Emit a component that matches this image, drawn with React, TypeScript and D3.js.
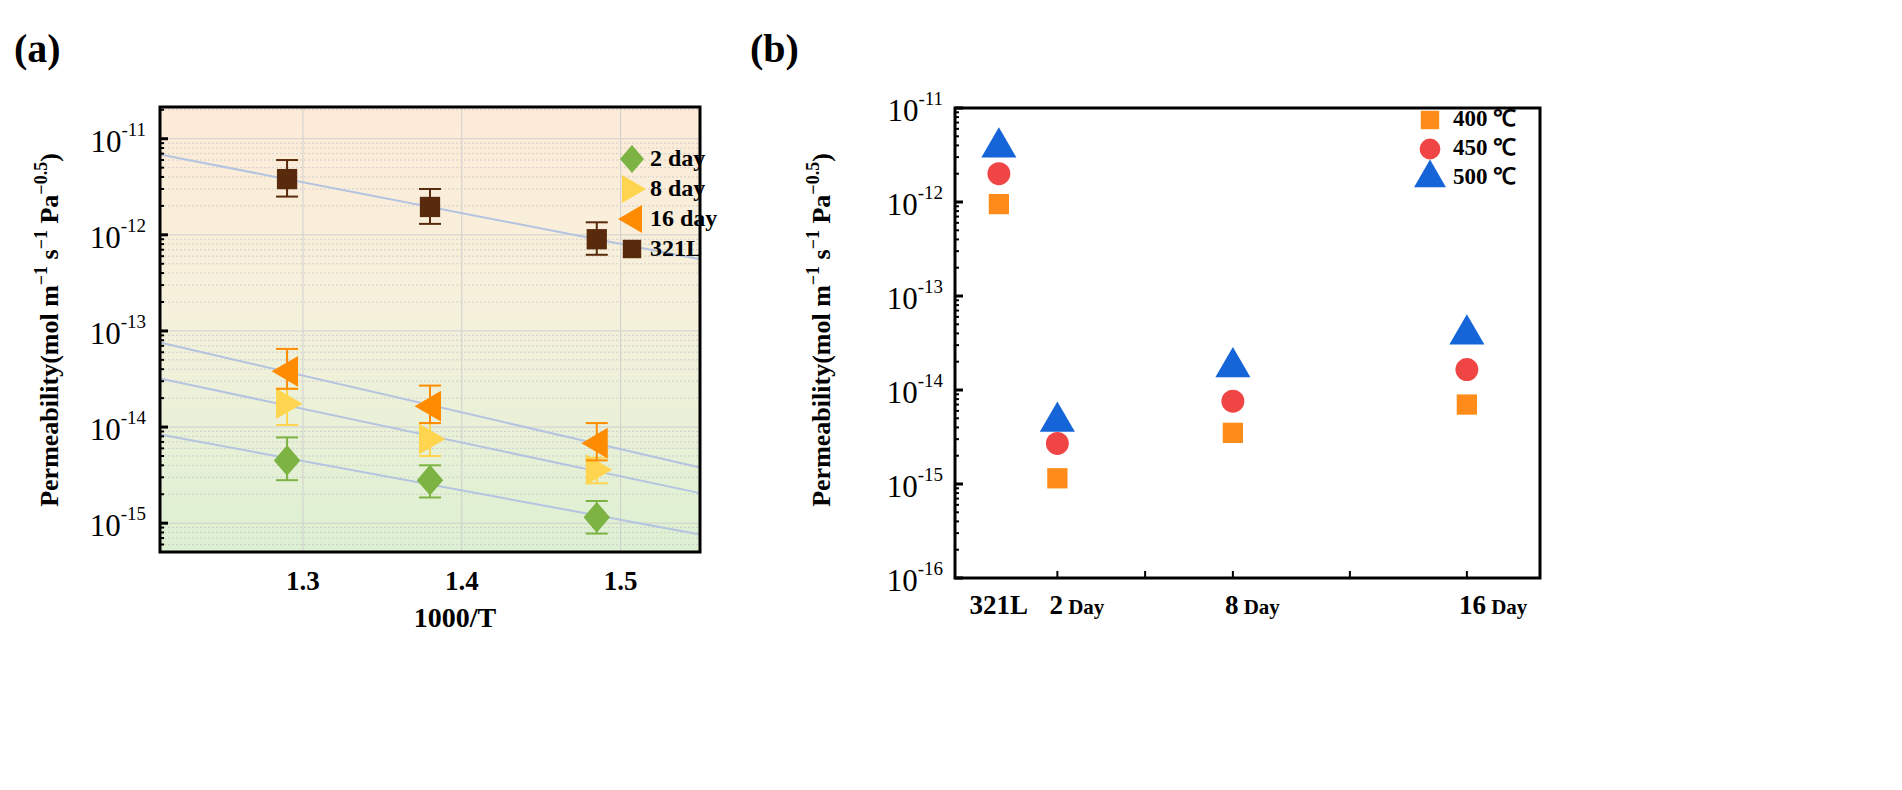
import React from 'react';
import * as d3 from 'd3';

// panel (a): 1000/T vs permeability
const tempX = [1.29, 1.38, 1.485];
const seriesA = [
  { name: '2 day', color: '#7cb342', shape: 'diamond', val: [4.5e-15, 2.8e-15, 1.15e-15], hi: [7.8e-15, 4e-15, 1.7e-15], lo: [2.8e-15, 1.85e-15, 7.8e-16] },
  { name: '8 day', color: '#ffd54f', shape: 'right', val: [1.75e-14, 7.5e-15, 3.6e-15], hi: [2.5e-14, 1.1e-14, 4.8e-15], lo: [1.05e-14, 5e-15, 2.6e-15] },
  { name: '16 day', color: '#ff8c00', shape: 'left', val: [3.8e-14, 1.65e-14, 6.8e-15], hi: [6.5e-14, 2.7e-14, 1.1e-14], lo: [2.5e-14, 1.1e-14, 4.5e-15] },
  { name: '321L', color: '#5a2a0c', shape: 'square', val: [3.8e-12, 1.95e-12, 9e-13], hi: [6e-12, 3e-12, 1.35e-12], lo: [2.5e-12, 1.3e-12, 6.2e-13] },
];
const xTicksA = [1.3, 1.4, 1.5];
const decadesA = [-11, -12, -13, -14, -15];

// panel (b): days vs permeability
const dayCats = ['321L', '2', '8', '16'];
const dayPos = [0, 2, 8, 16];
const seriesB = [
  { name: '400 ℃', color: '#ff8c1a', shape: 'square', val: [9.5e-13, 1.15e-15, 3.5e-15, 7e-15] },
  { name: '450 ℃', color: '#f04545', shape: 'circle', val: [2e-12, 2.7e-15, 7.6e-15, 1.65e-14] },
  { name: '500 ℃', color: '#1565d8', shape: 'triangle', val: [3.8e-12, 4.6e-15, 1.75e-14, 3.9e-14] },
];
const decadesB = [-11, -12, -13, -14, -15, -16];

const font = '"Liberation Serif", "Times New Roman", serif';

function marker(shape: string, x: number, y: number, s: number, color: string, key?: any) {
  const sym: Record<string, d3.SymbolType> = { square: d3.symbolSquare, circle: d3.symbolCircle, diamond: d3.symbolDiamond, triangle: d3.symbolTriangle };
  if (shape === 'right' || shape === 'left') {
    const d = shape === 'right' ? 1 : -1;
    const p = `M${x - d * s * 0.5},${y - s * 0.7}L${x + d * s * 0.7},${y}L${x - d * s * 0.5},${y + s * 0.7}Z`;
    return <path key={key} d={p} fill={color} />;
  }
  if (shape === 'diamond') {
    const p = `M${x},${y - s * 0.7}L${x + s * 0.6},${y}L${x},${y + s * 0.7}L${x - s * 0.6},${y}Z`;
    return <path key={key} d={p} fill={color} />;
  }
  const area = shape === 'triangle' ? s * s * 1.1 : shape === 'circle' ? s * s * 0.85 : s * s * 0.85;
  return <path key={key} d={d3.symbol(sym[shape], area)()!} transform={`translate(${x},${y})`} fill={color} />;
}

function DecadeLabel({ x, y, e }: { x: number; y: number; e: number }) {
  return (
    <text x={x} y={y} textAnchor="end" fontFamily={font} fontSize={31} dominantBaseline="middle">
      10<tspan dy={-13} fontSize={19}>{e}</tspan>
    </text>
  );
}

function minorTicks(decs: number[]) {
  const out: number[] = [];
  decs.forEach((e) => { for (let k = 2; k <= 9; k++) out.push(k * Math.pow(10, e)); });
  return out;
}

function YTitle({ x }: { x: number }) {
  return (
    <text transform={`translate(${x},330) rotate(-90)`} textAnchor="middle" fontFamily={font} fontWeight="bold" fontSize={26}>
      Permeability(mol m<tspan dy={-11} fontSize={18}>−1</tspan><tspan dy={11}> s</tspan><tspan dy={-11} fontSize={18}>−1</tspan><tspan dy={11}> Pa</tspan><tspan dy={-11} fontSize={18}>−0.5</tspan><tspan dy={11}>)</tspan>
    </text>
  );
}

function PanelA() {
  const L = 160, R = 700, T = 107, B = 552;
  const x = d3.scaleLinear().domain([1.21, 1.55]).range([L, R]);
  const y = d3.scaleLog().domain([Math.pow(10, -15.3), Math.pow(10, -10.67)]).range([B, T]);
  const minors = minorTicks([-11, -12, -13, -14, -15, -16]).filter((v) => y(v) > T && y(v) < B);
  return (
    <g>
      <defs>
        <linearGradient id="bgA" x1="0" y1="0" x2="0" y2="1">
          <stop offset="0" stopColor="#fdebd8" />
          <stop offset="0.45" stopColor="#f6f1dc" />
          <stop offset="1" stopColor="#dcf0d2" />
        </linearGradient>
      </defs>
      <rect x={L} y={T} width={R - L} height={B - T} fill="url(#bgA)" />
      {minors.map((v, i) => (
        <line key={i} x1={L} x2={R} y1={y(v)} y2={y(v)} stroke="#c8c8c8" strokeDasharray="2,2" strokeWidth={0.8} />
      ))}
      {decadesA.map((e) => (
        <line key={e} x1={L} x2={R} y1={y(Math.pow(10, e))} y2={y(Math.pow(10, e))} stroke="#d0d0d0" />
      ))}
      {xTicksA.map((t) => (
        <line key={t} x1={x(t)} x2={x(t)} y1={T} y2={B} stroke="#cfcfcf" />
      ))}
      {seriesA.map((s) => {
        const lx = tempX;
        const ly = s.val.map((v) => Math.log10(v));
        const mx = d3.mean(lx)!, my = d3.mean(ly)!;
        const slope = d3.sum(lx, (d, i) => (d - mx) * (ly[i] - my)) / d3.sum(lx, (d) => (d - mx) ** 2);
        const f = (t: number) => Math.pow(10, my + slope * (t - mx));
        const [a, b] = x.domain();
        return <line key={s.name} x1={x(a)} x2={x(b)} y1={y(f(a))} y2={y(f(b))} stroke="#b4c4e0" strokeWidth={2} />;
      })}
      {seriesA.map((s) => (
        <g key={s.name}>
          {tempX.map((t, i) => (
            <g key={i} stroke={s.color} strokeWidth={2}>
              <line x1={x(t)} x2={x(t)} y1={y(s.hi[i])} y2={y(s.lo[i])} />
              <line x1={x(t) - 11} x2={x(t) + 11} y1={y(s.hi[i])} y2={y(s.hi[i])} />
              <line x1={x(t) - 11} x2={x(t) + 11} y1={y(s.lo[i])} y2={y(s.lo[i])} />
            </g>
          ))}
          {tempX.map((t, i) => marker(s.shape, x(t), y(s.val[i]), 22, s.color, i))}
        </g>
      ))}
      {seriesA.map((s, i) => (
        <g key={s.name}>
          {marker(s.shape, 632, 159 + i * 30, 20, s.color)}
          <text x={650} y={160 + i * 30} dominantBaseline="middle" fontFamily={font} fontWeight="bold" fontSize={24}>{s.name}</text>
        </g>
      ))}
      <rect x={L} y={T} width={R - L} height={B - T} fill="none" stroke="#000" strokeWidth={3} />
      {minors.map((v, i) => (
        <line key={i} x1={L} x2={L + 4} y1={y(v)} y2={y(v)} stroke="#000" strokeWidth={2} />
      ))}
      {decadesA.map((e) => (
        <g key={e}>
          <line x1={L} x2={L + 8} y1={y(Math.pow(10, e))} y2={y(Math.pow(10, e))} stroke="#000" strokeWidth={3} />
          <DecadeLabel x={L - 14} y={y(Math.pow(10, e)) + 6} e={e} />
        </g>
      ))}
      {xTicksA.map((t) => (
        <text key={t} x={x(t)} y={B + 38} textAnchor="middle" fontFamily={font} fontWeight="bold" fontSize={27}>{t.toFixed(1)}</text>
      ))}
      <text x={455} y={627} textAnchor="middle" fontFamily={font} fontWeight="bold" fontSize={28}>1000/T</text>
      <YTitle x={58} />
      <text x={14} y={62} fontFamily={font} fontWeight="bold" fontSize={40}>(a)</text>
    </g>
  );
}

function PanelB() {
  const L = 955, R = 1540, T = 108, B = 578;
  const x = d3.scaleLinear().domain([-1.5, 18.5]).range([L, R]);
  const y = d3.scaleLog().domain([1e-16, 1e-11]).range([B, T]);
  const minors = minorTicks([-12, -13, -14, -15, -16]);
  return (
    <g>
      {seriesB.map((s) => (
        <g key={s.name}>
          {dayPos.map((d, i) => marker(s.shape, x(d), y(s.val[i]), 22, s.color, i))}
        </g>
      ))}
      {seriesB.map((s, i) => (
        <g key={s.name}>
          {marker(s.shape, 1430, 120 + i * 29, 20, s.color)}
          <text x={1453} y={121 + i * 29} dominantBaseline="middle" fontFamily={font} fontWeight="bold" fontSize={23}>{s.name}</text>
        </g>
      ))}
      <rect x={L} y={T} width={R - L} height={B - T} fill="none" stroke="#000" strokeWidth={3} />
      {minors.map((v, i) => (
        <line key={i} x1={L} x2={L + 4} y1={y(v)} y2={y(v)} stroke="#000" strokeWidth={2} />
      ))}
      {decadesB.map((e) => (
        <g key={e}>
          <line x1={L} x2={L + 8} y1={y(Math.pow(10, e))} y2={y(Math.pow(10, e))} stroke="#000" strokeWidth={3} />
          <DecadeLabel x={L - 12} y={y(Math.pow(10, e)) + 6} e={e} />
        </g>
      ))}
      {[2, 5, 8, 12, 16].map((d) => (
        <line key={d} x1={x(d)} x2={x(d)} y1={B} y2={B - 7} stroke="#000" strokeWidth={2} />
      ))}
      {dayCats.map((c, i) =>
        c === '321L' ? (
          <text key={c} x={x(dayPos[i])} y={B + 36} textAnchor="middle" fontFamily={font} fontWeight="bold" fontSize={27}>321L</text>
        ) : (
          <text key={c} x={x(dayPos[i]) - 8} y={B + 36} fontFamily={font} fontWeight="bold" fontSize={27}>{c}<tspan fontSize={21}> Day</tspan></text>
        )
      )}
      <YTitle x={830} />
      <text x={750} y={62} fontFamily={font} fontWeight="bold" fontSize={40}>(b)</text>
    </g>
  );
}

export default function App() {
  return (
    <div style={{ position: 'absolute', left: 0, top: 0, background: '#fff' }}>
      <svg width={1902} height={790}>
        <rect width={1902} height={790} fill="#fff" />
        <PanelA />
        <PanelB />
      </svg>
    </div>
  );
}
